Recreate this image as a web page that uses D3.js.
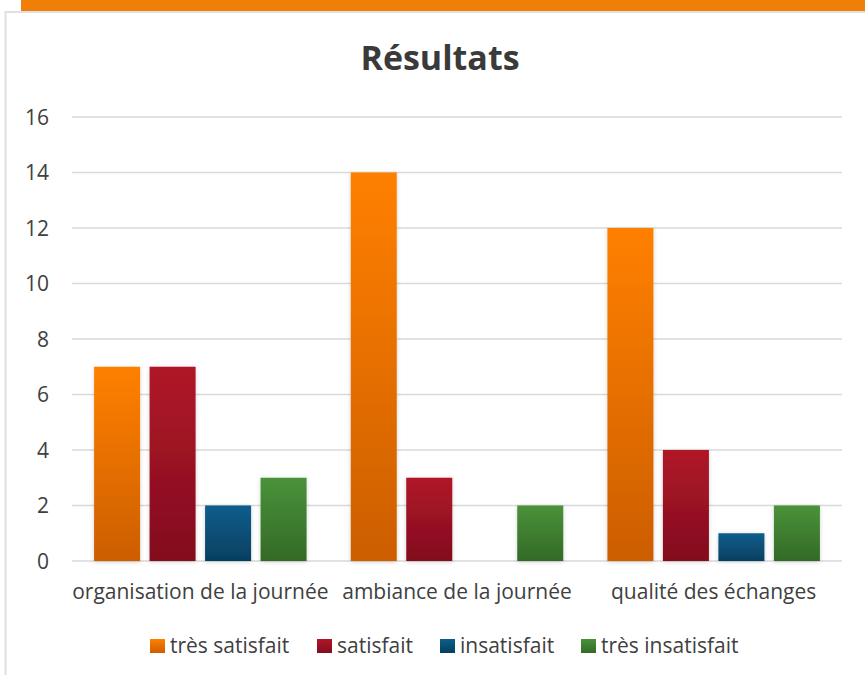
<!DOCTYPE html>
<html><head><meta charset="utf-8">
<script src="https://cdn.jsdelivr.net/npm/d3@7"></script>
<style>body{margin:0;background:#fff;}svg{display:block;}</style>
</head><body>
<script>
const categories = ["organisation de la journée", "ambiance de la journée", "qualité des échanges"];
const seriesNames = ["très satisfait", "satisfait", "insatisfait", "très insatisfait"];
const tresSatisfait = [7, 14, 12];
const satisfait = [7, 3, 4];
const insatisfait = [2, 0, 1];
const tresInsatisfait = [3, 2, 2];
const yTicks = [0, 2, 4, 6, 8, 10, 12, 14, 16];
const seriesValues = [tresSatisfait, satisfait, insatisfait, tresInsatisfait];
const colorsTop = ["#ff8000", "#b01528", "#0c5e8d", "#4a923a"];
const colorsBot = ["#cc5e00", "#820e1e", "#063f5f", "#336a27"];

const W = 865, H = 675;
const svg = d3.select("body").append("svg").attr("width", W).attr("height", H);
const defs = svg.append("defs");
colorsTop.forEach((c, i) => {
  const g = defs.append("linearGradient").attr("id", "g" + i).attr("x1", 0).attr("y1", 0).attr("x2", 0).attr("y2", 1);
  g.append("stop").attr("offset", "0%").attr("stop-color", c);
  g.append("stop").attr("offset", "100%").attr("stop-color", colorsBot[i]);
});
const f = defs.append("filter").attr("id", "sh").attr("x", "-20%").attr("y", "-10%").attr("width", "140%").attr("height", "120%");
f.append("feDropShadow").attr("dx", 0).attr("dy", 1).attr("stdDeviation", 2).attr("flood-color", "#000").attr("flood-opacity", 0.18);

// frame
svg.append("rect").attr("x", 21).attr("y", 0).attr("width", W - 21).attr("height", 11).attr("fill", "#f07f09");
svg.append("line").attr("x1", 5).attr("x2", W).attr("y1", 12).attr("y2", 12).attr("stroke", "#e0e0e0").attr("stroke-width", 2);
svg.append("line").attr("x1", 5.5).attr("x2", 5.5).attr("y1", 11).attr("y2", H).attr("stroke", "#e0e0e0").attr("stroke-width", 2);

const font = "'Open Sans', sans-serif";
const tcol = "#404040";
svg.append("text").attr("x", 440).attr("y", 70).attr("text-anchor", "middle")
  .attr("font-family", font).attr("font-weight", "bold").attr("font-size", 34).attr("fill", "#3a3a3a").text("Résultats");

const x0 = d3.scaleBand().domain(categories).range([72, 842]);
const x1 = d3.scaleBand().domain(seriesNames).range([0, x0.bandwidth()]).paddingInner(0.171).paddingOuter(0.398);
const y = d3.scaleLinear().domain([0, 16]).range([561, 117]);

const grid = svg.append("g");
grid.selectAll("line").data(yTicks).join("line")
  .attr("x1", 72).attr("x2", 842).attr("y1", d => y(d)).attr("y2", d => y(d))
  .attr("stroke", "#d9d9d9").attr("stroke-width", 1.5);

const yAxis = d3.axisLeft(y).tickValues(yTicks).tickSize(0).tickPadding(0);
const ya = svg.append("g").attr("transform", "translate(49,0)").call(yAxis);
ya.select(".domain").remove();
ya.selectAll("text").attr("font-family", font).attr("font-size", 21).attr("fill", tcol).attr("dy", "0.35em");

const groups = svg.append("g").selectAll("g").data(categories).join("g")
  .attr("transform", d => `translate(${x0(d)},0)`);
groups.selectAll("rect").data((c, ci) => seriesNames.map((s, si) => ({ s, si, v: seriesValues[si][ci] })).filter(d => d.v > 0))
  .join("rect")
  .attr("x", d => x1(d.s)).attr("width", x1.bandwidth())
  .attr("y", d => y(d.v)).attr("height", d => y(0) - y(d.v))
  .attr("fill", d => `url(#g${d.si})`).attr("filter", "url(#sh)");

const xAxis = d3.axisBottom(x0).tickSize(0).tickPadding(0);
const xa = svg.append("g").attr("transform", "translate(0,584)").call(xAxis);
xa.select(".domain").remove();
xa.selectAll("text").attr("font-family", font).attr("font-size", 21).attr("fill", tcol).attr("dy", "0.71em");

// legend
const legendX = [150, 317, 440, 581];
const lg = svg.append("g").selectAll("g").data(seriesNames).join("g")
  .attr("transform", (d, i) => `translate(${legendX[i]},646)`);
lg.append("rect").attr("x", 0).attr("y", -7).attr("width", 15).attr("height", 14).attr("fill", (d, i) => `url(#g${i})`);
lg.append("text").attr("x", 20).attr("y", 0).attr("dy", "0.35em").attr("font-family", font).attr("font-size", 21).attr("fill", tcol).text(d => d);
</script>
</body></html>
